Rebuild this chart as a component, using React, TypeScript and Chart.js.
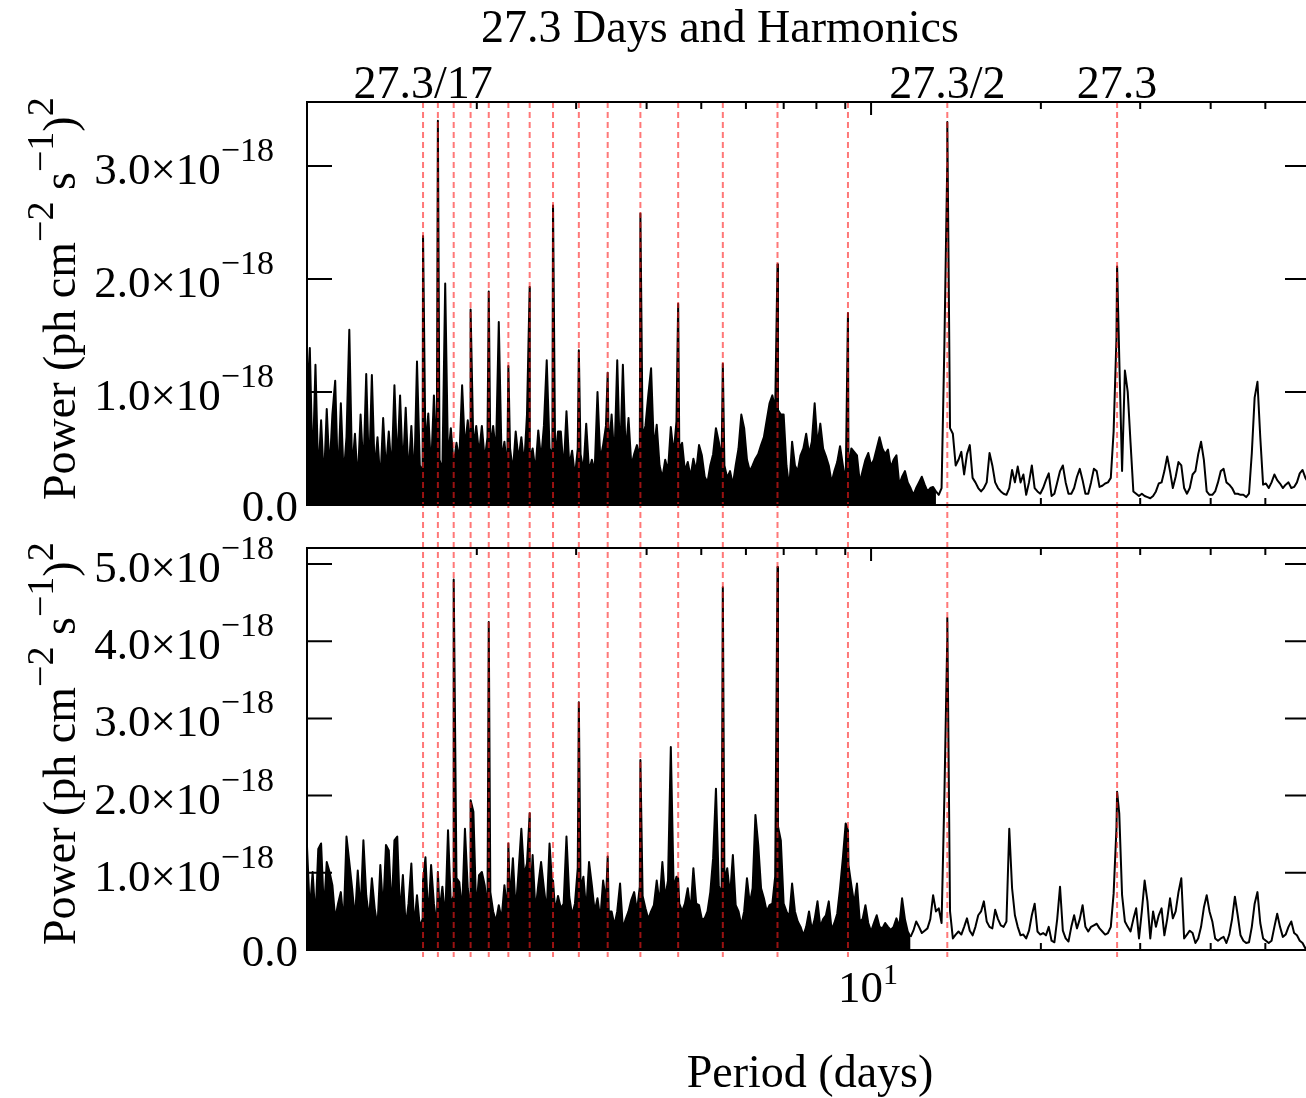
import React, { useEffect, useRef } from "react";
import { Chart, registerables } from "chart.js";

Chart.register(...registerables);

// ---------------- data ----------------
const BASE_PERIOD = 27.3; // days
const HARMONIC_DIVISORS = [1, 2, 3, 4, 5, 6, 7, 8, 9, 10, 11, 12, 13, 14, 15, 16, 17];
const TOP_LABEL_DIVISORS = [17, 2, 1];
const X_MIN = 1;
const X_MAX = 60;
const xMinorTicks = [2, 3, 4, 5, 6, 7, 8, 9, 20, 30, 40, 50];
const xMajorTicks = [10];
const topYTicks = [0, 1, 2, 3];
const bottomYTicks = [0, 1, 2, 3, 4, 5];
const TOP_Y_MAX = 3.566; // units of 1e-18
const BOTTOM_Y_MAX = 5.207;
// periods shorter than these form a dense, overlapping forest drawn solid
const TOP_DENSE_LIMIT_DAYS = 13.1;
const BOTTOM_DENSE_LIMIT_DAYS = 11.8;

// power sampled every 0.005 decade of period, starting at 1 day (units of 1e-18)
const GRID_LOG_STEP = 0.005;
const topPower = [
  0.9, 1.39, 0.3, 1.24, 0.25, 0.75, 0.2, 0.85, 0.3, 0.8,
  1.1, 0.2, 0.9, 0.25, 0.6, 1.55, 0.3, 0.63, 0.2, 0.8,
  0.3, 1.16, 0.25, 1.15, 0.3, 0.6, 0.2, 0.77, 0.3, 0.65,
  0.3, 1.06, 0.35, 0.97, 0.3, 0.86, 0.25, 0.7, 0.2, 1.27,
  0.35, 0.3, 0.5, 0.81, 0.3, 0.97, 0.35, 0.4, 0.3, 1.96,
  0.4, 0.68, 0.35, 0.55, 0.4, 1.06, 0.5, 0.75, 0.45, 0.5,
  0.7, 0.45, 0.7, 0.4, 0.6, 0.5, 0.7, 0.45, 1.62, 0.4,
  0.56, 0.3, 0.5, 0.3, 0.65, 0.4, 0.6, 0.35, 0.8, 0.4,
  0.5, 0.3, 0.66, 0.4, 0.7, 1.28, 0.5, 0.45, 0.4, 0.65,
  0.65, 0.3, 0.83, 0.35, 0.48, 0.25, 0.5, 0.45, 0.3, 0.72,
  0.3, 0.4, 0.3, 1.0, 0.4, 0.53, 0.7, 0.45, 0.8, 0.4,
  1.28, 0.38, 1.24, 0.45, 0.77, 0.35, 0.45, 0.53, 0.4, 0.6,
  0.7, 0.97, 1.21, 0.5, 0.71, 0.35, 0.24, 0.4, 0.3, 0.69,
  0.45, 0.74, 0.5, 0.55, 0.3, 0.38, 0.25, 0.41, 0.3, 0.53,
  0.44, 0.25, 0.2, 0.35, 0.45, 0.68, 0.56, 0.4, 0.35, 0.24,
  0.3, 0.18, 0.35, 0.5, 0.8, 0.68, 0.4, 0.3, 0.35, 0.41,
  0.45, 0.53, 0.6, 0.75, 0.9, 0.97, 0.85, 0.84, 0.8, 0.8,
  0.35, 0.15, 0.56, 0.35, 0.3, 0.44, 0.5, 0.63, 0.45, 0.56,
  0.9, 0.53, 0.72, 0.5, 0.43, 0.35, 0.2, 0.3, 0.38, 0.52,
  0.35, 0.2, 0.3, 0.5, 0.47, 0.44, 0.2, 0.3, 0.4, 0.46,
  0.35, 0.4, 0.5, 0.6, 0.5, 0.45, 0.49, 0.33, 0.4, 0.44,
  0.18, 0.25, 0.3, 0.2, 0.15, 0.09, 0.15, 0.2, 0.25, 0.18,
  0.12, 0.15, 0.16, 0.12, 0.09, 0.15, 1.42, 3.0, 0.68, 0.63,
  0.35, 0.4, 0.47, 0.27, 0.45, 0.53, 0.24, 0.2, 0.15, 0.12,
  0.15, 0.2, 0.46, 0.35, 0.2, 0.15, 0.12, 0.1, 0.09, 0.15,
  0.31, 0.2, 0.34, 0.2, 0.27, 0.09, 0.2, 0.35, 0.15, 0.12,
  0.1, 0.15, 0.22, 0.28, 0.08, 0.1, 0.2, 0.3, 0.35, 0.2,
  0.1, 0.1, 0.15, 0.25, 0.32, 0.22, 0.1, 0.1, 0.2, 0.32,
  0.3, 0.16, 0.17, 0.19, 0.2, 0.24, 0.65, 1.47, 1.3, 0.3,
  1.19, 1.0, 0.55, 0.12, 0.1, 0.08, 0.1, 0.08, 0.07, 0.06,
  0.08, 0.12, 0.19, 0.2, 0.3, 0.43, 0.3, 0.15, 0.25, 0.38,
  0.35, 0.15, 0.1, 0.15, 0.27, 0.3, 0.45, 0.56, 0.4, 0.12,
  0.09, 0.09, 0.12, 0.2, 0.3, 0.32, 0.2, 0.18, 0.15, 0.1,
  0.1, 0.09, 0.09, 0.07, 0.1, 0.46, 0.95, 1.09, 0.6, 0.18,
  0.19, 0.15, 0.2, 0.27, 0.22, 0.19, 0.15, 0.18, 0.2, 0.15,
  0.16, 0.2, 0.28, 0.31, 0.24, 0.2, 0.15,
];
const bottomPower = [
  1.34, 0.5, 1.01, 0.4, 1.31, 1.38, 0.5, 1.14, 1.01, 0.84,
  0.4, 0.6, 0.75, 0.35, 1.47, 1.14, 0.8, 0.4, 1.03, 0.5,
  1.42, 0.71, 0.4, 0.93, 0.54, 0.3, 1.1, 0.5, 1.36, 1.29,
  0.5, 1.42, 1.47, 0.45, 0.97, 0.3, 0.6, 1.12, 0.3, 0.71,
  0.3, 0.4, 1.2, 0.4, 1.1, 0.6, 0.3, 0.5, 0.82, 0.4,
  1.55, 0.6, 0.7, 0.93, 0.88, 0.5, 1.57, 0.8, 0.5, 1.79,
  0.5, 0.97, 1.01, 0.84, 0.5, 0.75, 0.5, 0.37, 0.58, 0.4,
  0.84, 0.5, 0.6, 1.19, 0.5, 1.01, 1.57, 0.97, 1.12, 0.5,
  1.23, 0.5, 0.84, 1.14, 0.8, 0.5, 1.38, 0.8, 0.5, 0.7,
  0.54, 0.6, 1.47, 0.69, 0.45, 0.6, 1.06, 0.8, 0.95, 0.5,
  1.14, 0.84, 0.5, 0.67, 0.4, 0.9, 0.63, 0.5, 0.5, 0.32,
  0.5, 0.86, 0.28, 0.4, 0.5, 0.65, 0.75, 0.5, 0.82, 0.7,
  0.54, 0.4, 0.5, 0.58, 0.9, 0.6, 1.14, 0.67, 0.9, 2.63,
  0.8, 0.95, 0.6, 0.5, 0.6, 0.8, 0.5, 1.06, 0.6, 0.58,
  0.4, 0.41, 0.5, 0.75, 1.19, 2.09, 0.84, 0.7, 0.9, 1.06,
  0.7, 1.23, 0.58, 0.5, 0.32, 0.5, 0.93, 0.6, 0.8, 1.75,
  1.36, 0.8, 0.67, 0.5, 0.58, 0.6, 0.95, 1.6, 1.42, 0.6,
  0.5, 0.43, 0.86, 0.5, 0.37, 0.3, 0.19, 0.3, 0.5, 0.26,
  0.4, 0.63, 0.3, 0.4, 0.45, 0.63, 0.26, 0.35, 0.47, 0.8,
  1.19, 1.64, 1.1, 0.84, 0.6, 0.86, 0.37, 0.4, 0.58, 0.35,
  0.24, 0.35, 0.45, 0.3, 0.28, 0.35, 0.3, 0.26, 0.3, 0.41,
  0.3, 0.67, 0.4, 0.24, 0.17, 0.25, 0.37, 0.3, 0.22, 0.25,
  0.28, 0.4, 0.71, 0.5, 0.54, 0.35, 2.0, 4.0, 0.5, 0.15,
  0.2, 0.24, 0.2, 0.3, 0.41, 0.25, 0.19, 0.3, 0.45, 0.5,
  0.63, 0.37, 0.3, 0.28, 0.52, 0.4, 0.32, 0.3, 0.37, 1.57,
  0.8, 0.45, 0.3, 0.19, 0.2, 0.15, 0.25, 0.45, 0.6, 0.24,
  0.2, 0.22, 0.19, 0.3, 0.12, 0.1, 0.4, 0.82, 0.25, 0.15,
  0.11, 0.3, 0.45, 0.28, 0.4, 0.58, 0.3, 0.24, 0.3, 0.32,
  0.34, 0.28, 0.24, 0.2, 0.22, 0.3, 0.73, 1.57, 1.77, 0.71,
  0.37, 0.3, 0.24, 0.4, 0.54, 0.15, 0.5, 0.9, 0.63, 0.15,
  0.5, 0.3, 0.45, 0.54, 0.19, 0.4, 0.67, 0.41, 0.5, 0.75,
  0.93, 0.15, 0.2, 0.25, 0.22, 0.09, 0.15, 0.3, 0.55, 0.71,
  0.5, 0.37, 0.15, 0.12, 0.15, 0.17, 0.09, 0.2, 0.4, 0.69,
  0.45, 0.19, 0.12, 0.09, 0.1, 0.3, 0.6, 0.75, 0.35, 0.15,
  0.12, 0.09, 0.12, 0.3, 0.47, 0.3, 0.17, 0.2, 0.3, 0.37,
  0.22, 0.19, 0.12, 0.09, 0.02, 0.05, 0.1,
];

// peak power exactly at each harmonic period 27.3/n, n = 1..17 (null: no peak)
const topHarmonicPower = [2.11, 3.39, 1.7, 2.13, 1.25, 1.78, 2.58, 1.17, 1.37, 2.65, 1.93, 1.23, 1.89, 1.73, null, 3.4, 2.38];
const bottomHarmonicPower = [2.05, 4.3, 1.55, 4.96, 4.7, 0.93, 2.46, 1.21, 3.21, 0.9, 1.77, 1.38, 4.25, 1.94, 4.8, 1.01, 0.9];

// ---------------- layout / style ----------------
const CANVAS_W = 1320;
const CANVAS_H = 1098;
const PLOT_LEFT = 307;
const PLOT_RIGHT = 1310;
const TOP_PANEL = { top: 102, bottom: 505 };
const BOTTOM_PANEL = { top: 548, bottom: 950 };
const RED_TOP = 102;
const RED_BOTTOM = 957;
const SERIF = '"Liberation Serif", "DejaVu Serif", serif';

type Pt = { x: number; y: number };
type Part = { t: string; sup?: boolean };

function buildSeries(grid: number[], harm: (number | null)[]): Pt[] {
  const pts: Pt[] = grid.map((v, i) => ({ x: Math.pow(10, i * GRID_LOG_STEP), y: v }));
  harm.forEach((v, k) => {
    if (v !== null) pts.push({ x: BASE_PERIOD / HARMONIC_DIVISORS[k], y: v });
  });
  pts.sort((a, b) => a.x - b.x);
  return pts;
}

function drawRich(
  ctx: CanvasRenderingContext2D,
  parts: Part[],
  x: number,
  y: number,
  mainFont: string,
  supFont: string,
  raise: number,
  align: "left" | "right" | "center"
) {
  let total = 0;
  for (const p of parts) {
    ctx.font = p.sup ? supFont : mainFont;
    total += ctx.measureText(p.t).width;
  }
  let cx = align === "left" ? x : align === "right" ? x - total : x - total / 2;
  ctx.textAlign = "left";
  ctx.textBaseline = "alphabetic";
  for (const p of parts) {
    ctx.font = p.sup ? supFont : mainFont;
    ctx.fillText(p.t, cx, p.sup ? y - raise : y);
    cx += ctx.measureText(p.t).width;
  }
}

type PanelSpec = {
  id: string;
  power: number[];
  harm: (number | null)[];
  denseLimit: number;
  yMax: number;
  yTicks: number[];
  area: { top: number; bottom: number };
  clip: { top: number; bottom: number };
  yTitleOrigin: number;
  isTop: boolean;
};

const panels: PanelSpec[] = [
  {
    id: "top",
    power: topPower,
    harm: topHarmonicPower,
    denseLimit: TOP_DENSE_LIMIT_DAYS,
    yMax: TOP_Y_MAX,
    yTicks: topYTicks,
    area: TOP_PANEL,
    clip: { top: 0, bottom: BOTTOM_PANEL.top },
    yTitleOrigin: 500,
    isTop: true,
  },
  {
    id: "bottom",
    power: bottomPower,
    harm: bottomHarmonicPower,
    denseLimit: BOTTOM_DENSE_LIMIT_DAYS,
    yMax: BOTTOM_Y_MAX,
    yTicks: bottomYTicks,
    area: BOTTOM_PANEL,
    clip: { top: BOTTOM_PANEL.top, bottom: CANVAS_H },
    yTitleOrigin: 945,
    isTop: false,
  },
];

function decorPlugin(p: PanelSpec) {
  return {
    id: "decor_" + p.id,
    afterDatasetsDraw(chart: any) {
      const ctx: CanvasRenderingContext2D = chart.ctx;
      const a = chart.chartArea;
      const xs = chart.scales.x;
      const ys = chart.scales.y;
      ctx.save();

      // red dashed harmonic lines
      ctx.save();
      ctx.beginPath();
      ctx.rect(0, p.clip.top, chart.width, p.clip.bottom - p.clip.top);
      ctx.clip();
      ctx.strokeStyle = "rgba(255,30,30,0.6)";
      ctx.lineWidth = 2;
      ctx.setLineDash([6, 4]);
      for (const n of HARMONIC_DIVISORS) {
        const x = xs.getPixelForValue(BASE_PERIOD / n);
        ctx.beginPath();
        ctx.moveTo(x, RED_TOP);
        ctx.lineTo(x, RED_BOTTOM);
        ctx.stroke();
      }
      ctx.restore();

      // frame
      ctx.strokeStyle = "#000";
      ctx.lineWidth = 2;
      ctx.setLineDash([]);
      ctx.strokeRect(a.left, a.top, a.right - a.left, a.bottom - a.top);

      // y ticks (inward, both sides)
      ctx.beginPath();
      for (const v of p.yTicks) {
        const y = ys.getPixelForValue(v);
        ctx.moveTo(a.left, y);
        ctx.lineTo(a.left + 25, y);
        ctx.moveTo(a.right, y);
        ctx.lineTo(a.right - 25, y);
      }
      // x ticks (inward, top and bottom)
      for (const v of xMinorTicks) {
        const x = xs.getPixelForValue(v);
        ctx.moveTo(x, a.top);
        ctx.lineTo(x, a.top + 7);
        ctx.moveTo(x, a.bottom);
        ctx.lineTo(x, a.bottom - 7);
      }
      for (const v of xMajorTicks) {
        const x = xs.getPixelForValue(v);
        ctx.moveTo(x, a.top);
        ctx.lineTo(x, a.top + 13);
        ctx.moveTo(x, a.bottom);
        ctx.lineTo(x, a.bottom - 13);
      }
      ctx.stroke();

      ctx.fillStyle = "#000";
      const mainFont = "45px " + SERIF;
      const supFont = "34px " + SERIF;

      // y tick labels
      for (const v of p.yTicks) {
        const y = ys.getPixelForValue(v);
        if (v === 0) {
          ctx.font = mainFont;
          ctx.textAlign = "right";
          ctx.textBaseline = "alphabetic";
          ctx.fillText("0.0", 298, y + 16);
        } else {
          drawRich(ctx, [{ t: v.toFixed(1) + "\u00d710" }, { t: "\u221218", sup: true }], 274, y + 18, mainFont, supFont, 23, "right");
        }
      }

      // y axis title (rotated)
      ctx.save();
      ctx.translate(75, p.yTitleOrigin);
      ctx.rotate(-Math.PI / 2);
      drawRich(
        ctx,
        [
          { t: "Power (ph cm" },
          { t: "\u22122", sup: true },
          { t: " s" },
          { t: "\u22121", sup: true },
          { t: ")" },
          { t: "2", sup: true },
        ],
        0,
        0,
        "46px " + SERIF,
        "38px " + SERIF,
        22,
        "left"
      );
      ctx.restore();

      if (p.isTop) {
        ctx.font = "46px " + SERIF;
        ctx.textAlign = "center";
        ctx.textBaseline = "alphabetic";
        ctx.fillText("27.3 Days and Harmonics", 720, 42);
        for (const n of TOP_LABEL_DIVISORS) {
          const x = xs.getPixelForValue(BASE_PERIOD / n);
          ctx.fillText(n === 1 ? "27.3" : "27.3/" + n, x, 98);
        }
      } else {
        for (const v of xMajorTicks) {
          const x = xs.getPixelForValue(v);
          drawRich(ctx, [{ t: String(v) }, { t: "1", sup: true }], x - 33, 1002, "45px " + SERIF, "30px " + SERIF, 18, "left");
        }
        ctx.font = "46px " + SERIF;
        ctx.textAlign = "center";
        ctx.fillText("Period (days)", 810, 1087);
      }
      ctx.restore();
    },
  };
}

function makeConfig(p: PanelSpec): any {
  const series = buildSeries(p.power, p.harm);
  let cut = series.findIndex((pt) => pt.x > p.denseLimit);
  if (cut < 1) cut = series.length - 1;
  cut -= 1; // last point inside the dense part
  const dense = series.slice(0, cut + 1);
  const sparse = series.slice(cut);
  const lineStyle = {
    borderColor: "#000",
    borderWidth: 2,
    borderJoinStyle: "round",
    pointRadius: 0,
    tension: 0,
  };
  return {
    type: "line",
    data: {
      datasets: [
        { ...lineStyle, data: dense, backgroundColor: "#000", fill: "origin" },
        { ...lineStyle, data: sparse, fill: false },
      ],
    },
    options: {
      responsive: false,
      animation: false,
      devicePixelRatio: 1,
      events: [],
      layout: {
        padding: {
          left: PLOT_LEFT,
          right: CANVAS_W - PLOT_RIGHT,
          top: p.area.top,
          bottom: CANVAS_H - p.area.bottom,
        },
      },
      plugins: { legend: { display: false }, tooltip: { enabled: false }, title: { display: false } },
      scales: {
        x: { type: "logarithmic", min: X_MIN, max: X_MAX, display: false },
        y: { type: "linear", min: 0, max: p.yMax, display: false },
      },
    },
    plugins: [decorPlugin(p)],
  };
}

export default function App() {
  const topRef = useRef<HTMLCanvasElement>(null);
  const botRef = useRef<HTMLCanvasElement>(null);
  useEffect(() => {
    const c1 = new Chart(topRef.current as HTMLCanvasElement, makeConfig(panels[0]));
    const c2 = new Chart(botRef.current as HTMLCanvasElement, makeConfig(panels[1]));
    return () => {
      c1.destroy();
      c2.destroy();
    };
  }, []);
  const cs: React.CSSProperties = { position: "absolute", left: 0, top: 0 };
  return (
    <div style={{ position: "fixed", left: 0, top: 0, width: 1306, height: 1098, overflow: "hidden", background: "#fff" }}>
      <canvas ref={topRef} width={CANVAS_W} height={CANVAS_H} style={cs} />
      <canvas ref={botRef} width={CANVAS_W} height={CANVAS_H} style={cs} />
    </div>
  );
}
